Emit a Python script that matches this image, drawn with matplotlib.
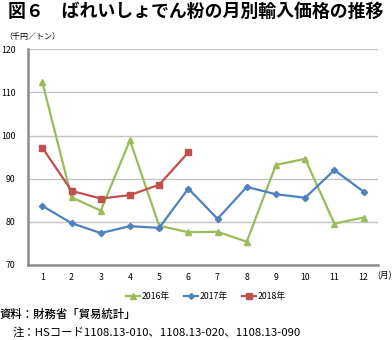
import matplotlib.pyplot as plt
from matplotlib.lines import Line2D

plt.rcParams['font.family'] = ['Noto Sans CJK JP', 'DejaVu Sans']

months = list(range(1, 13))
y2016 = [112.4, 85.7, 82.6, 98.9, 79.1, 77.6, 77.7, 75.4, 93.2, 94.6, 79.6, 81.0]
y2017 = [83.7, 79.7, 77.4, 79.0, 78.6, 87.7, 80.7, 88.1, 86.4, 85.6, 92.0, 87.0]
y2018 = [97.2, 87.2, 85.4, 86.2, 88.6, 96.1]
yticks = [70, 80, 90, 100, 110, 120]

green = '#9BBB59'
blue = '#4F81BD'
red = '#C0504D'

fig = plt.figure(figsize=(3.92, 3.40), dpi=100)
ax = fig.add_axes([0.0707, 0.2206, 0.894, 0.6344])

ax.plot(months, y2016, color=green, lw=1.6, marker='^', ms=4.5)
ax.plot(months, y2017, color=blue, lw=1.6, marker='D', ms=3.2)
ax.plot(months[:len(y2018)], y2018, color=red, lw=1.6, marker='s', ms=4.5)

ax.set_xlim(0.5, 12.5)
ax.set_ylim(70, 120)
ax.set_xticks(months)
ax.set_yticks(yticks)
ax.tick_params(length=0, labelsize=6.3)
ax.tick_params(axis='x', pad=6)
ax.tick_params(axis='y', pad=9)
ax.grid(axis='y', color='#C4C4C4', lw=1.0)
ax.set_axisbelow(True)
for s in ['top', 'right']:
    ax.spines[s].set_visible(False)
for s in ['left', 'bottom']:
    ax.spines[s].set_color('#8C8C8C')
    ax.spines[s].set_linewidth(1.8)

fig.text(0.02, 0.965, '図６　ばれいしょでん粉の月別輸入価格の推移',
         fontsize=12.9, fontweight='bold', va='center', ha='left')
fig.text(0.01, 0.894, '（千円／トン）', fontsize=5.8, va='center', ha='left')
fig.text(0.999, 0.188, '(月)', fontsize=6.3, va='center', ha='right')

handles = [
    Line2D([], [], color=green, lw=1.6, marker='^', ms=4),
    Line2D([], [], color=blue, lw=1.6, marker='D', ms=3),
    Line2D([], [], color=red, lw=1.6, marker='s', ms=4),
]
fig.legend(handles, ['2016年', '2017年', '2018年'], loc='center',
           bbox_to_anchor=(0.525, 0.129), ncol=3, frameon=False,
           fontsize=6.3, handlelength=1.6, handletextpad=0.2, columnspacing=1.6)

fig.text(0.0, 0.074, '資料：財務省「貿易統計」', fontsize=8.2, fontweight='medium',
         va='center', ha='left')
fig.text(0.033, 0.021, '注：HSコード1108.13-010、1108.13-020、1108.13-090',
         fontsize=8.2, va='center', ha='left')

fig.savefig('out.png', dpi=100)
